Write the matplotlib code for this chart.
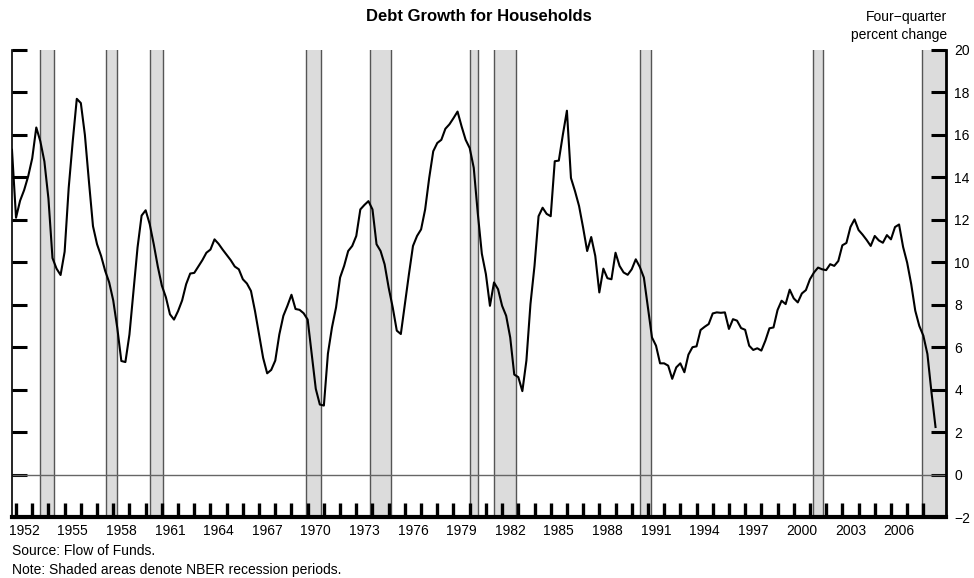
import numpy as np
import pandas as pd
import matplotlib
matplotlib.use("Agg")
import matplotlib.pyplot as plt

plt.rcParams['font.family'] = ['Liberation Sans', 'DejaVu Sans']

# Four-quarter percent change in household debt, quarterly from 1951Q4
first_quarter = '1951Q4'
debt_growth = [
    15.3, 12.1, 12.9, 13.4, 14.05, 14.9, 16.35, 15.7, 14.75, 13.0,
    10.2, 9.7, 9.4, 10.5, 13.5, 15.7, 17.7, 17.5, 16.0, 13.8,
    11.7, 10.85, 10.3, 9.6, 9.05, 8.2, 6.9, 5.35, 5.3, 6.6,
    8.65, 10.7, 12.2, 12.45, 11.8, 10.85, 9.8, 8.9, 8.35, 7.55,
    7.3, 7.7, 8.2, 8.97, 9.47, 9.5, 9.8, 10.1, 10.45, 10.6,
    11.08, 10.87, 10.6, 10.35, 10.1, 9.8, 9.67, 9.2, 9.0, 8.65,
    7.7, 6.6, 5.5, 4.77, 4.93, 5.37, 6.6, 7.48, 7.95, 8.47,
    7.8, 7.76, 7.6, 7.3, 5.68, 4.04, 3.3, 3.25,
    5.7, 6.93, 7.87, 9.28, 9.83, 10.53, 10.77, 11.24, 12.49, 12.7,
    12.88, 12.49, 10.85, 10.53, 9.9, 8.8, 7.87, 6.78, 6.62, 8.03,
    9.44, 10.77, 11.24, 11.55, 12.49, 13.97, 15.23, 15.62, 15.77, 16.29,
    16.5, 16.79, 17.1, 16.4, 15.77, 15.38, 14.45, 12.3, 10.4,
    9.44, 7.95, 9.05, 8.73, 7.95, 7.48, 6.46, 4.71, 4.59, 3.93,
    5.37, 8.03, 9.83, 12.17, 12.57, 12.28, 12.17, 14.76, 14.79, 16.01,
    17.14, 13.97, 13.35, 12.65, 11.63, 10.53, 11.19, 10.3, 8.58, 9.7,
    9.25, 9.2, 10.45, 9.83, 9.52, 9.41, 9.67, 10.14, 9.78,
    9.28, 7.87, 6.46, 6.07, 5.24, 5.24, 5.13, 4.51, 5.05, 5.24,
    4.82, 5.65, 6.0, 6.04, 6.81, 6.96, 7.09, 7.59, 7.64, 7.62,
    7.64, 6.86, 7.32, 7.25, 6.9, 6.82, 6.07, 5.87, 5.95, 5.84,
    6.31, 6.89, 6.93, 7.75, 8.19, 8.03,
    8.71, 8.3, 8.11, 8.53, 8.69, 9.2, 9.52, 9.75, 9.67, 9.63,
    9.91, 9.83, 10.06, 10.8, 10.91, 11.66, 12.02, 11.52, 11.3, 11.05,
    10.77, 11.24, 11.03, 10.92, 11.28, 11.08, 11.66, 11.78, 10.72, 9.98,
    8.97, 7.72, 7.0, 6.54, 5.68, 3.88, 2.24,
]

# NBER recessions (peak month, trough month); last one still open
rec_start = ['1953-07', '1957-08', '1960-04', '1969-12', '1973-11',
             '1980-01', '1981-07', '1990-07', '2001-03', '2007-12']
rec_end = ['1954-05', '1958-04', '1961-02', '1970-11', '1975-03',
           '1980-07', '1982-11', '1991-03', '2001-11', None]

year_ticks = list(range(1952, 2009))
year_labels = list(range(1952, 2007, 3))
y_ticks = list(range(-2, 21, 2))

x_lo, x_hi = 1951.75, 2009.4


def decimal_year(s):
    y, m = s.split('-')
    return int(y) + (int(m) - 1) / 12


periods = pd.period_range(first_quarter, periods=len(debt_growth), freq='Q')
x = periods.year + (periods.quarter - 1) / 4

fig = plt.figure(figsize=(9.74, 5.78), dpi=100)
ax = fig.add_axes([0.0123, 0.1055, 0.9590, 0.8080])

# recession shading
for s, e in zip(rec_start, rec_end):
    xs = decimal_year(s)
    xe = decimal_year(e) if e else x_hi
    ax.axvspan(xs, xe, facecolor='#dcdcdc', lw=0, zorder=0)
    ax.axvline(xs, color='#555555', lw=1, zorder=1)
    if e:
        ax.axvline(xe, color='#555555', lw=1, zorder=1)

ax.axhline(0, color='#666666', lw=1, zorder=2)
ax.plot(x, debt_growth, color='black', lw=1.5, zorder=3)

ax.set_xlim(x_lo, x_hi)
ax.set_ylim(-2, 20)

# spines
ax.spines['top'].set_visible(False)
ax.spines['left'].set_linewidth(1.2)
ax.spines['right'].set_linewidth(2)
ax.spines['bottom'].set_linewidth(3)

# y axis: ticks both sides, labels right
ax.set_yticks(y_ticks)
ax.tick_params(axis='y', direction='in', length=11, width=2.2,
               left=True, right=True, labelleft=False, labelright=True,
               labelsize=10, pad=6)

# x axis: yearly ticks, labels centred in every third year
ax.set_xticks(year_ticks)
ax.set_xticklabels([])
ax.tick_params(axis='x', which='major', direction='in', length=10, width=2.4)
ax.set_xticks([y + 0.5 for y in year_labels], minor=True)
ax.set_xticklabels([str(y) for y in year_labels], minor=True)
ax.tick_params(axis='x', which='minor', length=0, labelsize=10, pad=5)

fig.text(0.492, 0.972, 'Debt Growth for Households', ha='center', va='center',
         fontsize=12, fontweight='bold')
fig.text(0.972, 0.971, 'Four\u2212quarter', ha='right', va='center', fontsize=10)
fig.text(0.972, 0.940, 'percent change', ha='right', va='center', fontsize=10)
fig.text(0.0123, 0.047, 'Source: Flow of Funds.', ha='left', va='center', fontsize=10)
fig.text(0.0123, 0.014, 'Note: Shaded areas denote NBER recession periods.',
         ha='left', va='center', fontsize=10)

fig.savefig('out.png', dpi=100)
